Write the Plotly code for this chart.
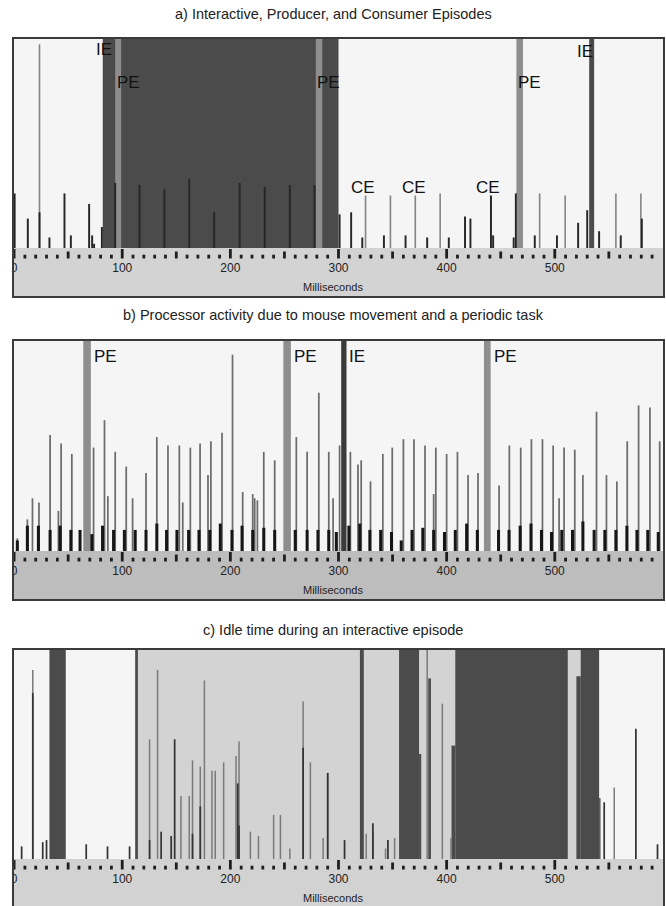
import plotly.graph_objects as go

# ------------------------------------------------------------------ data
TICK_MAJOR = [0, 100, 200, 300, 400, 500]
TICK_LABELS = ["0", "100", "200", "300", "400", "500"]
TICK_MEDIUM = [50, 150, 250, 350, 450, 550]
TICK_MINOR = [10, 20, 30, 40, 60, 70, 80, 90, 110, 120, 130, 140, 160, 170, 180, 190,
              210, 220, 230, 240, 260, 270, 280, 290, 310, 320, 330, 340, 360, 370, 380, 390,
              410, 420, 430, 440, 460, 470, 480, 490, 510, 520, 530, 540, 560, 570, 580, 590]

TITLES = ["a) Interactive, Producer, and Consumer Episodes",
          "b) Processor activity due to mouse movement and a periodic task",
          "c) Idle time during an interactive episode"]
X_LABEL = "Milliseconds"

# panel a
A_IE_START = [82, 531.8]
A_IE_END = [300, 536.4]
A_PE_START = [93.5, 279, 464.5]
A_PE_END = [99, 285, 470.6]
A_DARK_X = [0.5, 12.7, 23.5, 32.7, 46.6, 52.5, 69.4, 72.2, 74, 81.2, 93.5, 116, 139, 162, 185,
            208.6, 231.8, 255, 277.8, 301, 311.7, 322, 342, 362, 382, 402, 417, 422, 441, 443,
            462, 464, 481.5, 502, 521.6, 530, 541, 561, 580.5]
A_DARK_Y = [0.26, 0.14, 0.17, 0.05, 0.26, 0.06, 0.21, 0.06, 0.02, 0.10, 0.31, 0.30, 0.28, 0.33, 0.17,
            0.31, 0.29, 0.30, 0.30, 0.16, 0.17, 0.05, 0.06, 0.06, 0.05, 0.05, 0.15, 0.14, 0.25, 0.06,
            0.05, 0.26, 0.06, 0.06, 0.12, 0.18, 0.08, 0.06, 0.14]
A_GRAY_X = [23.5, 325, 348, 371, 394, 486, 509.6, 556.5, 579.6]
A_GRAY_Y = [0.97, 0.25, 0.25, 0.25, 0.26, 0.26, 0.25, 0.26, 0.26]
A_LABEL_TEXT = ["IE", "PE", "PE", "PE", "IE", "CE", "CE", "CE"]
A_LABEL_X = [83, 93.5, 278.7, 464.5, 528, 323, 370, 438]
A_LABEL_Y = [0.943, 0.786, 0.786, 0.786, 0.936, 0.29, 0.29, 0.29]
A_LABEL_ANCHOR = ["center", "left", "left", "left", "center", "center", "center", "center"]

# panel b
B_IE_START = [302.5]
B_IE_END = [307.4]
B_PE_START = [64, 249, 434.5]
B_PE_END = [71, 256, 440.7]
B_TALL_X = [3, 12.3, 17, 23, 33.3, 41, 43.5, 53.4, 73.5, 83.6, 86.7, 93.5, 103.7, 109.6, 122, 132,
            142.3, 152.8, 156, 163, 172, 179.3, 182, 192.3, 202, 211.4, 220.7, 222.5, 225, 230.9,
            241, 261, 271, 281.8, 291, 295, 301, 311, 318, 321, 329.6, 341, 349.7, 360, 369.8,
            380, 388, 390, 400, 410, 419.8, 429, 448.5, 458, 468.5, 478.4, 488.6, 498.5, 504,
            508.6, 518.5, 526, 538.6, 547.8, 557.4, 567, 577.5, 588, 597]
B_TALL_Y = [0.06, 0.15, 0.25, 0.23, 0.55, 0.19, 0.51, 0.46, 0.49, 0.62, 0.26, 0.47, 0.40, 0.25, 0.37, 0.54,
            0.50, 0.50, 0.23, 0.49, 0.51, 0.36, 0.52, 0.56, 0.93, 0.28, 0.27, 0.25, 0.24, 0.47,
            0.43, 0.54, 0.47, 0.75, 0.47, 0.25, 0.50, 0.47, 0.41, 0.43, 0.33, 0.46, 0.49, 0.53, 0.53,
            0.50, 0.27, 0.49, 0.46, 0.47, 0.36, 0.37, 0.31, 0.50, 0.49, 0.53, 0.53, 0.50, 0.25,
            0.49, 0.48, 0.36, 0.66, 0.36, 0.33, 0.52, 0.69, 0.68, 0.52]
B_BASE_X = [3, 12.3, 22.5, 33.3, 42.6, 52.5, 61, 72, 81.8, 92, 102, 112, 122, 132, 141, 150.6,
            161.4, 171, 181, 190.7, 201.5, 210.8, 220.7, 230.9, 241, 260, 271, 281, 291, 298,
            309.6, 319.7, 329, 339, 349, 358, 368, 378, 388, 398, 408, 418.5, 428.4, 448,
            457.7, 468, 478, 487.7, 497, 506.5, 516.4, 526, 536.4, 546.3, 556.5, 566.7, 576,
            586, 595.7]
B_BASE_Y = [0.05, 0.12, 0.12, 0.10, 0.12, 0.10, 0.10, 0.08, 0.12, 0.10, 0.10, 0.10, 0.10, 0.13, 0.10, 0.10,
            0.10, 0.10, 0.10, 0.13, 0.10, 0.12, 0.10, 0.11, 0.10, 0.10, 0.10, 0.10, 0.10, 0.09,
            0.12, 0.13, 0.10, 0.10, 0.09, 0.05, 0.10, 0.11, 0.10, 0.09, 0.10, 0.13, 0.10, 0.10,
            0.10, 0.12, 0.13, 0.10, 0.09, 0.10, 0.10, 0.14, 0.10, 0.10, 0.10, 0.12, 0.10,
            0.10, 0.09]
B_LABEL_TEXT = ["PE", "PE", "IE", "PE"]
B_LABEL_X = [72, 257, 308, 442.3]
B_LABEL_Y = [0.924, 0.924, 0.924, 0.924]

# panel c
C_REGION_START = [112]
C_REGION_END = [541]
C_BLOCK_START = [32.7, 112, 319.8, 356, 374.5, 383, 404.5, 408, 520, 524, 541]
C_BLOCK_END = [47.8, 114.5, 323.4, 374.5, 376.5, 385.5, 408, 512, 524, 541, 542.3]
C_BLOCK_H = [1.0, 1.0, 1.0, 1.0, 0.5, 0.86, 0.54, 1.0, 0.87, 1.0, 0.29]
C_GRAY_X = [17.3, 125.3, 132.7, 154.3, 162, 165, 172.2, 176, 183, 186, 193.8, 205.2, 208, 218.5, 226,
            240, 246.3, 255, 267.3, 274, 285.8, 290, 325.6, 331.8, 343.5, 351.9, 382, 396, 404, 555]
C_GRAY_Y = [0.90, 0.57, 0.90, 0.30, 0.30, 0.47, 0.44, 0.85, 0.42, 0.42, 0.46, 0.49, 0.56, 0.13, 0.11,
            0.21, 0.21, 0.05, 0.75, 0.46, 0.10, 0.41, 0.12, 0.13, 0.05, 0.10, 1.0, 0.74, 0.10, 0.34]
C_DARK_X = [7, 17.3, 26.5, 30, 66.7, 86.4, 106.8, 125.3, 136, 145.3, 148.5, 165, 172.2, 206.8, 208,
            267.3, 290, 305.6, 331.8, 345.7, 545.7, 575, 595]
C_DARK_Y = [0.06, 0.79, 0.08, 0.09, 0.07, 0.06, 0.06, 0.09, 0.13, 0.11, 0.57, 0.12, 0.25, 0.36, 0.16,
            0.53, 0.41, 0.09, 0.17, 0.09, 0.27, 0.62, 0.07]

# ------------------------------------------------------------------ style / layout
W, H = 666, 906
FONT = "Liberation Sans, Arial, sans-serif"
BG = "#f5f5f5"
IE_COLOR = "#4b4b4b"
PE_COLOR = "#8e8e8e"
DARK = "#262626"
GRAY = "#858585"
BORDER = "#3a3a3a"
XR = [-1, 601]
BOX_L, BOX_R = 13, 664

PANELS = [
    dict(top=38, band=248, bottom=297, band_color="#d3d3d3", title_y=14),
    dict(top=340, band=551, bottom=600, band_color="#bdbdbd", title_y=315),
    dict(top=649, band=859, bottom=906, band_color="#d2d2d2", title_y=630),
]

fig = go.Figure()
layout = dict(width=W, height=H, margin=dict(l=0, r=0, t=0, b=0),
              paper_bgcolor="white", plot_bgcolor=BG, showlegend=False,
              barmode="overlay", shapes=[], annotations=[])


def ax_names(i):
    s = "" if i == 0 else str(i + 1)
    return "x" + s, "y" + s, "xaxis" + s, "yaxis" + s


def bars(i, xs, ys, width, color):
    xa, ya, _, _ = ax_names(i)
    fig.add_trace(go.Bar(x=xs, y=ys, width=width, marker=dict(color=color, line=dict(width=0)),
                         opacity=1, xaxis=xa, yaxis=ya, hoverinfo="skip"))


def spans(i, starts, ends, color, heights=None):
    xs = [(s + e) / 2 for s, e in zip(starts, ends)]
    ws = [e - s for s, e in zip(starts, ends)]
    hs = heights if heights is not None else [1.0] * len(starts)
    bars(i, xs, hs, ws, color)


for i, p in enumerate(PANELS):
    xa, ya, xk, yk = ax_names(i)
    ppu = p["band"] - p["top"]
    ymin = -(p["bottom"] - p["band"]) / ppu
    layout[xk] = dict(domain=[BOX_L / W, BOX_R / W], range=XR, visible=False,
                      anchor=ya, fixedrange=True)
    layout[yk] = dict(domain=[1 - p["bottom"] / H, 1 - p["top"] / H], range=[ymin, 1],
                      visible=False, anchor=xa, fixedrange=True)
    layout["shapes"].append(dict(type="rect", xref=xa + " domain", yref=ya, x0=0, x1=1,
                                 y0=ymin, y1=0, fillcolor=p["band_color"], line=dict(width=0),
                                 layer="below"))
    layout["shapes"].append(dict(type="rect", xref=xa + " domain", yref=ya + " domain",
                                 x0=0, x1=1, y0=(-0.02 if i == 2 else 0), y1=1,
                                 line=dict(color=BORDER, width=2), layer="above"))
    p["ppu"] = ppu

# panel a
spans(0, A_IE_START, A_IE_END, IE_COLOR)
spans(0, A_PE_START, A_PE_END, PE_COLOR)
bars(0, A_GRAY_X, A_GRAY_Y, 1.5, GRAY)
bars(0, A_DARK_X, A_DARK_Y, 1.8, DARK)

# panel b
spans(1, B_PE_START, B_PE_END, PE_COLOR)
spans(1, B_IE_START, B_IE_END, "#3a3a3a")
bars(1, B_TALL_X, B_TALL_Y, 1.6, "#6b6b6b")
bars(1, B_BASE_X, B_BASE_Y, 2.8, "#161616")

# panel c
spans(2, C_REGION_START, C_REGION_END, "#d3d3d3")
spans(2, C_BLOCK_START, C_BLOCK_END, IE_COLOR, C_BLOCK_H)
bars(2, C_GRAY_X, C_GRAY_Y, 1.4, "#7a7a7a")
bars(2, C_DARK_X, C_DARK_Y, 1.6, "#333333")

for i, p in enumerate(PANELS):
    xa, ya, _, _ = ax_names(i)
    ppu = p["ppu"]
    for ticks, top_off in ((TICK_MINOR, 6.7), (TICK_MEDIUM, 3.5), (TICK_MAJOR, 1.0)):
        xs, ys = [], []
        for t in ticks:
            xs += [t, t, None]
            ys += [-top_off / ppu, -10.5 / ppu, None]
        fig.add_trace(go.Scatter(x=xs, y=ys, mode="lines", line=dict(color="#1e1e1e", width=2.8),
                                 xaxis=xa, yaxis=ya, hoverinfo="skip"))
    fig.add_trace(go.Scatter(x=TICK_MAJOR, y=[-21 / ppu] * len(TICK_MAJOR), mode="text",
                             text=TICK_LABELS, textposition="middle center", cliponaxis=True,
                             textfont=dict(family=FONT, size=12, color="#222"),
                             xaxis=xa, yaxis=ya, hoverinfo="skip"))
    layout["annotations"].append(dict(text=X_LABEL, x=295, xref=xa, y=-38.5 / ppu, yref=ya,
                                      showarrow=False, xanchor="center", yanchor="middle",
                                      font=dict(family=FONT, size=11, color="#222")))
    layout["annotations"].append(dict(text=TITLES[i], x=0.5, xref="paper",
                                      y=1 - p["title_y"] / H, yref="paper", showarrow=False,
                                      xanchor="center", yanchor="middle",
                                      font=dict(family=FONT, size=14.5, color="#222")))

for i, (txts, xs, ys, anc) in enumerate([
        (A_LABEL_TEXT, A_LABEL_X, A_LABEL_Y, A_LABEL_ANCHOR),
        (B_LABEL_TEXT, B_LABEL_X, B_LABEL_Y, ["left"] * len(B_LABEL_TEXT))]):
    xa, ya, _, _ = ax_names(i)
    for t, x, y, a in zip(txts, xs, ys, anc):
        layout["annotations"].append(dict(text=t, x=x, y=y, xref=xa, yref=ya, showarrow=False,
                                          xanchor=a, yanchor="middle",
                                          font=dict(family=FONT, size=17, color="#111")))

fig.update_layout(**layout)
fig.write_html("out.html", config={"displayModeBar": False, "staticPlot": True},
               post_script="document.body.style.margin='0';document.body.style.overflow='hidden';")
